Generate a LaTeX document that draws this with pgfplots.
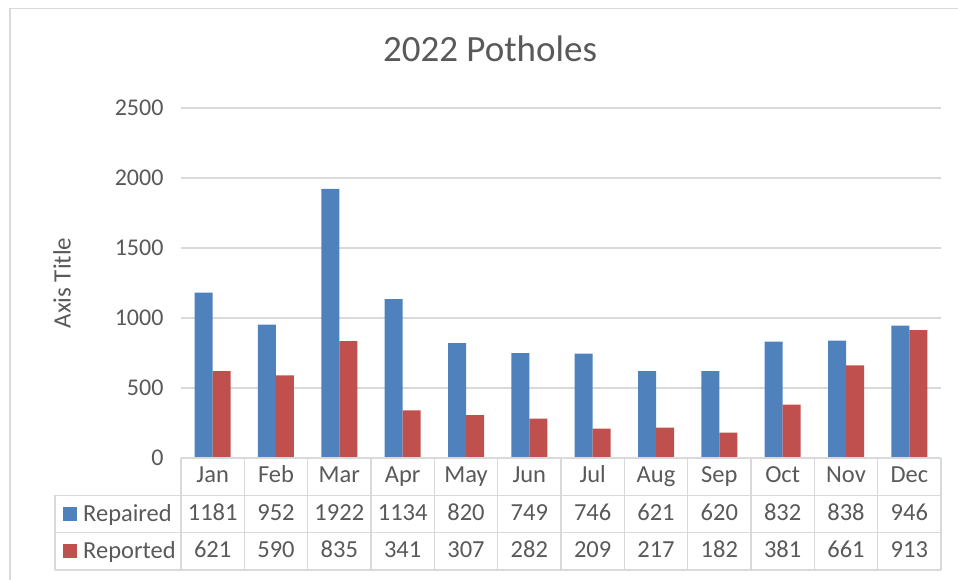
\documentclass[border=0pt]{standalone}
\usepackage{pgfplots}
\usepackage{pgfplotstable}
\pgfplotsset{compat=1.18}
\usepackage{fontspec}
\setmainfont{Carlito}
\definecolor{cblue}{HTML}{4F81BD}
\definecolor{cred}{HTML}{C0504D}
\definecolor{cgrid}{HTML}{D9D9D9}
\definecolor{ctext}{HTML}{595959}
\pgfplotstableread{
x month repaired reported
0 Jan 1181 621
1 Feb 952 590
2 Mar 1922 835
3 Apr 1134 341
4 May 820 307
5 Jun 749 282
6 Jul 746 209
7 Aug 621 217
8 Sep 620 182
9 Oct 832 381
10 Nov 838 661
11 Dec 946 913
}\datatable
\begin{document}
\begin{tikzpicture}[x=1pt,y=1pt]
\useasboundingbox (-181,-121) rectangle (777,458);
\draw[cgrid, line width=1.5pt] (-171,-125) -- (-171,449.5) -- (790,449.5);
\begin{axis}[
  at={(0,0)}, anchor=south west,
  scale only axis, width=760pt, height=350pt,
  xmin=-0.5, xmax=11.5, ymin=0, ymax=2500,
  ytick={0,500,...,2500},
  xtick=\empty,
  axis line style={draw=none},
  major tick length=0pt,
  ymajorgrids, grid style={cgrid, line width=1.5pt},
  yticklabel style={font=\fontsize{24}{28}\selectfont, text=ctext, xshift=-14pt},
  /pgf/number format/assume math mode=true,
  /pgf/number format/set thousands separator={},
  title={2022 Potholes},
  title style={at={(axis description cs:0.4066,1.153)}, anchor=center, font=\fontsize{37}{44}\selectfont, text=ctext},
  ylabel={Axis Title},
  ylabel style={at={(axis description cs:-0.1566,0.5)}, anchor=center, font=\fontsize{25}{30}\selectfont, text=ctext},
  clip=false,
]
\addplot[ybar, bar width=18pt, bar shift=-9pt, fill=cblue, draw=none] table[x=x, y=repaired] {\datatable};
\addplot[ybar, bar width=18pt, bar shift=9pt, fill=cred, draw=none] table[x=x, y=reported] {\datatable};
\end{axis}
% data table below the plot
\begin{scope}[cgrid, line width=1.5pt]
\draw (0,0) -- (760,0);
\draw (-126,-37.3) -- (760,-37.3);
\draw (-126,-74.7) -- (760,-74.7);
\draw (-126,-112) -- (760,-112);
\draw (-126,-37.3) -- (-126,-112);
\foreach \i in {0,...,12} { \draw ({\i*63.333},0) -- ({\i*63.333},-112); }
\end{scope}
\fill[cblue] (-118,-49) rectangle (-104,-63);
\fill[cred] (-118,-86) rectangle (-104,-100);
\node[anchor=west, text=ctext, font=\fontsize{24.5}{29}\selectfont, inner sep=0pt] at (-98,-56.5) {Repaired};
\node[anchor=west, text=ctext, font=\fontsize{24.5}{29}\selectfont, inner sep=0pt] at (-98,-93.5) {Reported};
\foreach \i in {0,...,11} {
  \pgfplotstablegetelem{\i}{month}\of\datatable
  \node[text=ctext, font=\fontsize{24.5}{29}\selectfont] at ({(\i+0.5)*63.333},-18.7) {\strut\pgfplotsretval};
  \pgfplotstablegetelem{\i}{repaired}\of\datatable
  \node[text=ctext, font=\fontsize{24.5}{29}\selectfont] at ({(\i+0.5)*63.333},-56.5) {\strut\pgfplotsretval};
  \pgfplotstablegetelem{\i}{reported}\of\datatable
  \node[text=ctext, font=\fontsize{24.5}{29}\selectfont] at ({(\i+0.5)*63.333},-93.5) {\strut\pgfplotsretval};
}
\end{tikzpicture}
\end{document}
